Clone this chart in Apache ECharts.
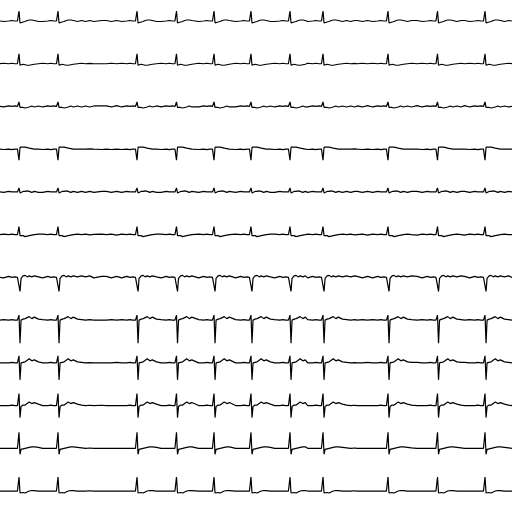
<!DOCTYPE html>
<html><head><meta charset="utf-8">
<script src="https://cdn.jsdelivr.net/npm/echarts@6/dist/echarts.min.js"></script>
<style>html,body{margin:0;padding:0;background:#fff}#c{width:512px;height:512px}</style>
</head><body><div id="c"></div>
<script>
// Beat (R-peak) times in seconds (10 s strip)
const beatTimes = [0.371, 1.133, 2.676, 3.447, 4.180, 4.902, 5.664, 6.309, 7.578, 8.545, 9.473];
const leads = ['I','II','III','aVR','aVL','aVF','V1','V2','V3','V4','V5','V6'];
// Knot offsets (s) relative to each R peak
const knotOffsets = [-0.78,-0.69,-0.60,-0.50,-0.40,-0.30,-0.20,-0.14,-0.08,-0.03,-0.012,0,0.02,0.04,0.08,0.12,0.16,0.20,0.25,0.30,0.38,0.46,0.54,0.62,0.70];
// Per-lead beat waveform values (mV) at those offsets
const beatI   = [-0.05,0.05, 0.05,-0.05,0.05,-0.05,0.0, 0.05,0,0,0,1.0,-0.2,-0.05, -0.1,-0.05,0.05,0.1,0.1,0.05,-0.05,0.05,-0.05, 0.05,-0.05];
const beatII  = [0.05,0, 0,0.05,0,0.05,0, 0.05,0,0,0,1.0,-0.15,0, -0.05,-0.1,-0.15,-0.15,-0.1,-0.05,0,0.05,0, 0.03,0];
const beatIII = [-0.05,0.05, 0.05,-0.05,0.08,-0.05,0.05, 0,0.05,0,0,0.45,-0.1,-0.05, -0.1,-0.15,-0.1,-0.05,0.05,-0.05,0.05,-0.05,0.05, -0.05,0.05];
const beatAVR = [0,-0.03, 0,-0.03,0,-0.03,0, -0.05,0,0,0,-1.1,0.2,0.25, 0.2,0.2,0.15,0.1,0.05,0,0,0,0, 0.03,0];
const beatAVL = [-0.05,0.05, 0.05,-0.05,0.05,-0.05,0.05, 0,0,0,0,0.4,-0.1,0, 0.05,0.05,0.1,0.05,-0.05,0.05,-0.05,0.05,-0.05, 0.05,-0.05];
const beatAVF = [-0.05,0.05, 0,0.05,-0.05,0.05,0, 0.05,0,0,0,0.8,-0.1,-0.05, -0.1,-0.2,-0.15,-0.1,-0.05,0,0.05,0,0.05, -0.03,0.03];
const beatV1  = [-0.05,0.1, 0.1,-0.05,0.1,-0.05,0.1, 0,0.05,0,0.05,0.15,-1.4,-0.1, 0.15,0.2,0.05,0.15,0.05,0.15,0.05,0.15,0.05, 0.15,-0.05];
const beatV2  = [0.05,0, 0,0.05,0,0.05,0, 0.05,0,0,0,0.5,-2.3,0, 0.1,0.15,0.25,0.35,0.15,0.3,0.1,0.05,0, 0.05,0];
const beatV3  = [0.03,0, 0,0,0.05,0,0, 0.05,0,0,0,0.7,-1.7,0, 0.05,0.1,0.25,0.4,0.2,0.3,0.1,0.05,0, 0.03,0];
const beatV4  = [0,0.03, 0,0,0,0,0, 0.05,0,0,0,1.2,-1.2,-0.1, 0.05,0.05,0.2,0.35,0.2,0.3,0.15,0.05,0, 0.03,0];
const beatV5  = [0,0, 0,0,0,0,0, 0,0,0,0,1.6,-0.6,-0.1, -0.05,0.0,0.05,0.1,0.15,0.15,0.1,0.05,0, 0.03,0];
const beatV6  = [0,0, 0,0,0,0,0, 0,0,0,0,1.4,-0.2,-0.1, -0.15,-0.2,-0.1,0,0.05,0.05,0,0,0, 0.03,0];
const beats = [beatI, beatII, beatIII, beatAVR, beatAVL, beatAVF, beatV1, beatV2, beatV3, beatV4, beatV5, beatV6];

function buildSeries(vals){
  const pts = [[0,0]];
  beatTimes.forEach((bt,b)=>{
    const lo = b>0 ? (beatTimes[b-1]+bt)/2 : 0;
    const hi = b<beatTimes.length-1 ? (beatTimes[b+1]+bt)/2 : 10;
    knotOffsets.forEach((o,i)=>{ const t = bt+o; if(t>lo && t<hi && t>0 && t<10) pts.push([t, vals[i]]); });
  });
  pts.push([10,0]);
  return pts;
}

const chart = echarts.init(document.getElementById('c'));
const grids=[], xAxes=[], yAxes=[], series=[];
leads.forEach((name,k)=>{
  grids.push({left:0,right:0,top:1+42.73*k,height:40});
  xAxes.push({type:'value',gridIndex:k,min:0,max:10,show:false});
  yAxes.push({type:'value',gridIndex:k,min:-2,max:2,show:false});
  series.push({name:name,type:'line',xAxisIndex:k,yAxisIndex:k,data:buildSeries(beats[k]),
    showSymbol:false,clip:false,lineStyle:{color:'#000',width:1.2},animation:false});
});
chart.setOption({backgroundColor:'#fff',animation:false,grid:grids,xAxis:xAxes,yAxis:yAxes,series:series});
</script></body></html>
